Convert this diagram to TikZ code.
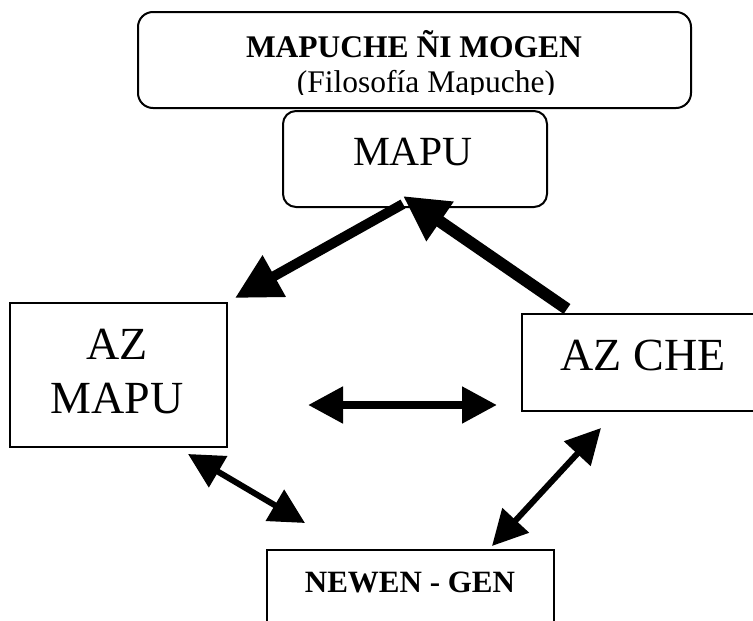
\documentclass[tikz,border=0pt]{standalone}
\usepackage{fontspec}
\setmainfont{Liberation Serif}
\usetikzlibrary{arrows.meta,calc}

\tikzset{
  roundbox/.style={draw, line width=2pt, rounded corners=#1, inner sep=0pt},
  roundbox/.default=14pt,
  plainbox/.style={draw, line width=2pt, inner sep=0pt},
  label/.style={anchor=base, inner sep=0pt},
  bigarrow/.style={line width=#1, -{Triangle[length=45pt,width=45pt]}},
  pairarrow/.style={line width=#1, {Triangle[length=35pt,width=35pt]}-{Triangle[length=35pt,width=35pt]}},
}

\begin{document}
\begin{tikzpicture}[x=1pt,y=-1pt]
  % page frame; boxes running off the page are cut at its edges
  \clip (0,0) rectangle (753,621);
  \fill[white] (0,0) rectangle (753,621);

  % boxes
  \node[roundbox=15pt, minimum width=553pt, minimum height=96pt] (title) at (414.5,60) {};
  \node[roundbox=13pt, minimum width=264pt, minimum height=96pt] (mapu) at (415,159) {};
  \node[plainbox, minimum width=217pt, minimum height=144pt] (azmapu) at (118.5,375) {};
  \node[plainbox, minimum width=236pt, minimum height=97pt] (azche) at (640,362.5) {};
  \node[plainbox, minimum width=287pt, minimum height=90pt] (newen) at (410.5,595) {};

  % texts
  \node[label, font=\bfseries\fontsize{31.5}{36}\selectfont] (titletext) at (414,57) {MAPUCHE ÑI MOGEN};
  \begin{scope}
    \clip (138,12) rectangle (691,94.5);
    \node[label, font=\fontsize{31.5}{36}\selectfont] (subtitle) at (426,92) {(Filosofía Mapuche)};
  \end{scope}
  \node[label, font=\fontsize{41.5}{48}\selectfont] (mapulabel) at (413,165) {MAPU};
  \node[label, font=\fontsize{46}{54}\selectfont] (azlabel) at (117,359) {AZ};
  \node[label, font=\fontsize{46}{54}\selectfont] (mapu2label) at (117,413) {MAPU};
  \node[label, font=\fontsize{46}{54}\selectfont] (azchelabel) at (643,370) {AZ CHE};
  \node[label, font=\bfseries\fontsize{31}{36}\selectfont] (newenlabel) at (410,592) {NEWEN - GEN};

  % connectors
  \draw[bigarrow=10pt] ($(mapu.south)+(-12,-4)$) -- ($(azmapu.north east)+(7,-4)$);
  \draw[bigarrow=12pt] ($(azche.north west)+(46,-4)$) -- ($(mapu.south)+(-12,-12)$);
  \draw[pairarrow=8pt] ($(azmapu.east)+(80,30)$) -- ($(azche.west)+(-24,42.5)$);
  \draw[pairarrow=6pt] ($(azmapu.south east)+(-40,6)$) -- ($(newen.north west)+(39,-26)$);
  \draw[pairarrow=6pt] ($(newen.north east)+(-63,-3)$) -- ($(azche.south west)+(80,16)$);
\end{tikzpicture}
\end{document}
